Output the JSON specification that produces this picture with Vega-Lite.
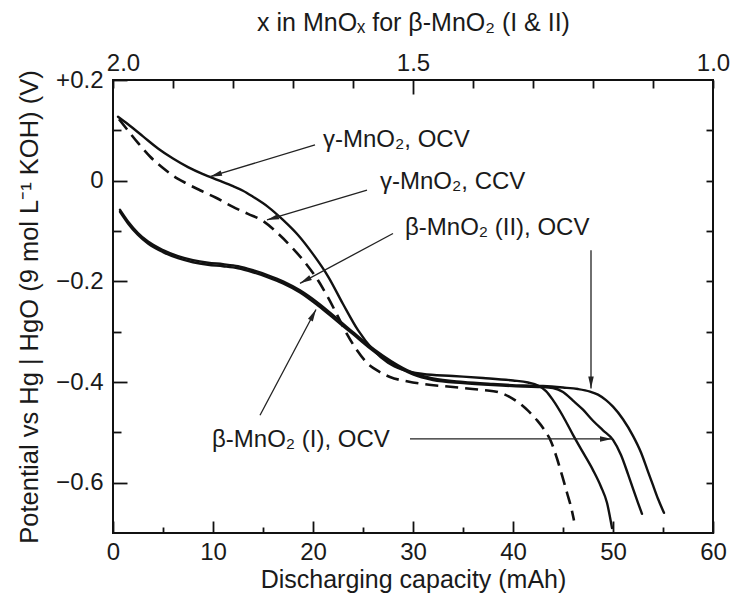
{
  "$schema": "https://vega.github.io/schema/vega-lite/v6.json",
  "width": 600,
  "height": 453,
  "autosize": {"type": "none"},
  "padding": {"left": 113, "top": 80, "right": 19, "bottom": 65},
  "background": "white",
  "config": {
    "view": {"stroke": "#111", "strokeWidth": 2},
    "font": "Liberation Sans",
    "axis": {"labelFont": "Liberation Sans", "titleFont": "Liberation Sans", "labelColor": "#1a1a1a", "titleColor": "#1a1a1a", "tickColor": "#111", "tickWidth": 1.8, "titleFontWeight": "normal", "grid": false, "domain": false, "labelFlush": false, "labelOverlap": false}
  },
  "datasets": {
    "curves": [
      {"s": "gOCV", "cap": 0.5, "v": 0.127}, {"s": "gOCV", "cap": 1.5, "v": 0.112}, {"s": "gOCV", "cap": 3, "v": 0.088}, {"s": "gOCV", "cap": 4.5, "v": 0.064}, {"s": "gOCV", "cap": 6, "v": 0.044}, {"s": "gOCV", "cap": 7.5, "v": 0.027}, {"s": "gOCV", "cap": 9, "v": 0.013}, {"s": "gOCV", "cap": 10.5, "v": 0.001}, {"s": "gOCV", "cap": 12, "v": -0.011}, {"s": "gOCV", "cap": 13, "v": -0.02}, {"s": "gOCV", "cap": 14, "v": -0.032}, {"s": "gOCV", "cap": 15.5, "v": -0.052}, {"s": "gOCV", "cap": 17, "v": -0.078}, {"s": "gOCV", "cap": 18.5, "v": -0.108}, {"s": "gOCV", "cap": 20, "v": -0.146}, {"s": "gOCV", "cap": 21.5, "v": -0.19}, {"s": "gOCV", "cap": 23, "v": -0.245}, {"s": "gOCV", "cap": 24.5, "v": -0.297}, {"s": "gOCV", "cap": 26, "v": -0.336}, {"s": "gOCV", "cap": 27.5, "v": -0.362}, {"s": "gOCV", "cap": 29, "v": -0.376}, {"s": "gOCV", "cap": 31, "v": -0.384}, {"s": "gOCV", "cap": 34, "v": -0.388}, {"s": "gOCV", "cap": 37, "v": -0.392}, {"s": "gOCV", "cap": 40, "v": -0.397}, {"s": "gOCV", "cap": 41.5, "v": -0.401}, {"s": "gOCV", "cap": 42.5, "v": -0.407}, {"s": "gOCV", "cap": 43.3, "v": -0.418}, {"s": "gOCV", "cap": 44, "v": -0.436}, {"s": "gOCV", "cap": 45, "v": -0.468}, {"s": "gOCV", "cap": 46, "v": -0.505}, {"s": "gOCV", "cap": 47, "v": -0.54}, {"s": "gOCV", "cap": 48, "v": -0.575}, {"s": "gOCV", "cap": 48.8, "v": -0.608}, {"s": "gOCV", "cap": 49.4, "v": -0.64}, {"s": "gOCV", "cap": 49.9, "v": -0.69},
      {"s": "gCCV", "cap": 0.6, "v": 0.122}, {"s": "gCCV", "cap": 1.2, "v": 0.107}, {"s": "gCCV", "cap": 2.5, "v": 0.075}, {"s": "gCCV", "cap": 3.7, "v": 0.048}, {"s": "gCCV", "cap": 5, "v": 0.025}, {"s": "gCCV", "cap": 6, "v": 0.01}, {"s": "gCCV", "cap": 7.3, "v": -0.005}, {"s": "gCCV", "cap": 8.7, "v": -0.019}, {"s": "gCCV", "cap": 10.3, "v": -0.034}, {"s": "gCCV", "cap": 12, "v": -0.052}, {"s": "gCCV", "cap": 13.5, "v": -0.066}, {"s": "gCCV", "cap": 15, "v": -0.08}, {"s": "gCCV", "cap": 16.5, "v": -0.105}, {"s": "gCCV", "cap": 18, "v": -0.135}, {"s": "gCCV", "cap": 19.3, "v": -0.165}, {"s": "gCCV", "cap": 20.5, "v": -0.198}, {"s": "gCCV", "cap": 21.5, "v": -0.232}, {"s": "gCCV", "cap": 22.5, "v": -0.27}, {"s": "gCCV", "cap": 23.4, "v": -0.305}, {"s": "gCCV", "cap": 24.4, "v": -0.337}, {"s": "gCCV", "cap": 25.4, "v": -0.362}, {"s": "gCCV", "cap": 26.5, "v": -0.378}, {"s": "gCCV", "cap": 27.7, "v": -0.39}, {"s": "gCCV", "cap": 29.5, "v": -0.399}, {"s": "gCCV", "cap": 31, "v": -0.404}, {"s": "gCCV", "cap": 34, "v": -0.41}, {"s": "gCCV", "cap": 37, "v": -0.416}, {"s": "gCCV", "cap": 38.5, "v": -0.42}, {"s": "gCCV", "cap": 39.7, "v": -0.43}, {"s": "gCCV", "cap": 40.7, "v": -0.443}, {"s": "gCCV", "cap": 41.5, "v": -0.457}, {"s": "gCCV", "cap": 42.4, "v": -0.476}, {"s": "gCCV", "cap": 43.2, "v": -0.497}, {"s": "gCCV", "cap": 43.8, "v": -0.518}, {"s": "gCCV", "cap": 44.4, "v": -0.552}, {"s": "gCCV", "cap": 44.9, "v": -0.585}, {"s": "gCCV", "cap": 45.4, "v": -0.62}, {"s": "gCCV", "cap": 45.8, "v": -0.648}, {"s": "gCCV", "cap": 46.1, "v": -0.675},
      {"s": "bI", "cap": 0.7, "v": -0.062}, {"s": "bI", "cap": 1.5, "v": -0.085}, {"s": "bI", "cap": 2.5, "v": -0.108}, {"s": "bI", "cap": 3.5, "v": -0.125}, {"s": "bI", "cap": 5, "v": -0.142}, {"s": "bI", "cap": 6.5, "v": -0.154}, {"s": "bI", "cap": 8, "v": -0.162}, {"s": "bI", "cap": 9.5, "v": -0.167}, {"s": "bI", "cap": 11, "v": -0.17}, {"s": "bI", "cap": 12.5, "v": -0.174}, {"s": "bI", "cap": 14, "v": -0.182}, {"s": "bI", "cap": 15.5, "v": -0.192}, {"s": "bI", "cap": 17, "v": -0.204}, {"s": "bI", "cap": 18.7, "v": -0.222}, {"s": "bI", "cap": 20.5, "v": -0.248}, {"s": "bI", "cap": 22.4, "v": -0.279}, {"s": "bI", "cap": 24, "v": -0.305}, {"s": "bI", "cap": 25.5, "v": -0.33}, {"s": "bI", "cap": 27, "v": -0.352}, {"s": "bI", "cap": 28.5, "v": -0.37}, {"s": "bI", "cap": 30, "v": -0.385}, {"s": "bI", "cap": 32, "v": -0.396}, {"s": "bI", "cap": 35, "v": -0.402}, {"s": "bI", "cap": 38, "v": -0.406}, {"s": "bI", "cap": 41, "v": -0.409}, {"s": "bI", "cap": 43, "v": -0.41}, {"s": "bI", "cap": 44, "v": -0.412}, {"s": "bI", "cap": 45, "v": -0.42}, {"s": "bI", "cap": 46, "v": -0.437}, {"s": "bI", "cap": 47, "v": -0.455}, {"s": "bI", "cap": 48, "v": -0.477}, {"s": "bI", "cap": 49, "v": -0.496}, {"s": "bI", "cap": 50, "v": -0.515}, {"s": "bI", "cap": 50.8, "v": -0.545}, {"s": "bI", "cap": 51.5, "v": -0.583}, {"s": "bI", "cap": 52, "v": -0.612}, {"s": "bI", "cap": 52.5, "v": -0.64}, {"s": "bI", "cap": 52.9, "v": -0.662},
      {"s": "bII", "cap": 0.7, "v": -0.058}, {"s": "bII", "cap": 1.5, "v": -0.081}, {"s": "bII", "cap": 2.5, "v": -0.104}, {"s": "bII", "cap": 3.5, "v": -0.121}, {"s": "bII", "cap": 5, "v": -0.138}, {"s": "bII", "cap": 6.5, "v": -0.15}, {"s": "bII", "cap": 8, "v": -0.158}, {"s": "bII", "cap": 9.5, "v": -0.163}, {"s": "bII", "cap": 11, "v": -0.166}, {"s": "bII", "cap": 12.5, "v": -0.17}, {"s": "bII", "cap": 14, "v": -0.178}, {"s": "bII", "cap": 15.5, "v": -0.188}, {"s": "bII", "cap": 17, "v": -0.2}, {"s": "bII", "cap": 18.7, "v": -0.218}, {"s": "bII", "cap": 20.5, "v": -0.243}, {"s": "bII", "cap": 22.4, "v": -0.274}, {"s": "bII", "cap": 24, "v": -0.301}, {"s": "bII", "cap": 25.5, "v": -0.326}, {"s": "bII", "cap": 27, "v": -0.348}, {"s": "bII", "cap": 28.5, "v": -0.367}, {"s": "bII", "cap": 30, "v": -0.382}, {"s": "bII", "cap": 32, "v": -0.393}, {"s": "bII", "cap": 35, "v": -0.4}, {"s": "bII", "cap": 38, "v": -0.404}, {"s": "bII", "cap": 41, "v": -0.407}, {"s": "bII", "cap": 43, "v": -0.408}, {"s": "bII", "cap": 45, "v": -0.411}, {"s": "bII", "cap": 46.5, "v": -0.414}, {"s": "bII", "cap": 47.7, "v": -0.419}, {"s": "bII", "cap": 48.5, "v": -0.425}, {"s": "bII", "cap": 49.3, "v": -0.436}, {"s": "bII", "cap": 50, "v": -0.449}, {"s": "bII", "cap": 51, "v": -0.474}, {"s": "bII", "cap": 52, "v": -0.507}, {"s": "bII", "cap": 52.8, "v": -0.54}, {"s": "bII", "cap": 53.5, "v": -0.578}, {"s": "bII", "cap": 54, "v": -0.605}, {"s": "bII", "cap": 54.5, "v": -0.632}, {"s": "bII", "cap": 55.1, "v": -0.66}
    ],
    "arrows": [
      {"a": "a1", "x1": 20.2, "y1": 0.071, "x2": 9.7, "y2": 0.008},
      {"a": "a2", "x1": 25.4, "y1": -0.019, "x2": 15.4, "y2": -0.078},
      {"a": "a3", "x1": 28.0, "y1": -0.105, "x2": 18.7, "y2": -0.204},
      {"a": "a4", "x1": 14.7, "y1": -0.466, "x2": 20.3, "y2": -0.256},
      {"a": "a5", "x1": 47.8, "y1": -0.138, "x2": 47.8, "y2": -0.413},
      {"a": "a6", "x1": 29.7, "y1": -0.513, "x2": 49.9, "y2": -0.513}
    ],
    "labels": [
      {"t": "γ-MnO₂, OCV", "x": 21.0, "y": 0.081},
      {"t": "γ-MnO₂, CCV", "x": 26.7, "y": -0.002},
      {"t": "β-MnO₂ (II), OCV", "x": 29.2, "y": -0.095},
      {"t": "β-MnO₂ (I), OCV", "x": 9.9, "y": -0.515}
    ]
  },
  "layer": [
    {
      "data": {"name": "curves"},
      "transform": [{"filter": "datum.s != 'gCCV'"}],
      "mark": {"type": "line", "color": "#111", "strokeWidth": 2.4, "interpolate": "monotone", "strokeCap": "round"},
      "encoding": {
        "detail": {"field": "s", "type": "nominal"},
        "x": {"field": "cap", "type": "quantitative", "scale": {"domain": [0, 60], "nice": false, "zero": false},
          "axis": {"orient": "bottom", "values": [0, 5, 10, 15, 20, 25, 30, 35, 40, 45, 50, 55, 60],
            "tickSize": {"condition": {"test": "datum.value % 10 == 0", "value": -12}, "value": -6},
            "labelPadding": 19, "labelFontSize": 24, "labelExpr": "datum.value % 10 == 0 ? datum.label : ''",
            "title": "Discharging capacity (mAh)", "titleFontSize": 25, "titlePadding": -3}},
        "y": {"field": "v", "type": "quantitative", "scale": {"domain": [-0.7, 0.2], "nice": false, "zero": false},
          "axis": {"orient": "left", "values": [-0.6, -0.5, -0.4, -0.3, -0.2, -0.1, 0, 0.1, 0.2],
            "tickSize": {"condition": {"test": "round(datum.value*10) % 2 == 0", "value": -14}, "value": -8},
            "labelPadding": 24, "labelFontSize": 24,
            "labelExpr": "round(datum.value*10) % 2 != 0 ? '' : (datum.value > 0.05 ? '+' + format(datum.value, '.1f') : (datum.value < -0.05 ? '−' + format(-datum.value, '.1f') : '0'))",
            "title": "Potential vs Hg | HgO (9 mol L⁻¹ KOH) (V)", "titleFontSize": 25.5, "titlePadding": 13}}
      }
    },
    {
      "data": {"name": "curves"},
      "transform": [{"filter": "datum.s == 'gCCV'"}],
      "mark": {"type": "line", "color": "#111", "strokeWidth": 2.6, "strokeDash": [13, 7], "interpolate": "monotone"},
      "encoding": {
        "x": {"field": "cap", "type": "quantitative", "scale": {"domain": [0, 60], "nice": false, "zero": false}, "axis": null},
        "y": {"field": "v", "type": "quantitative", "scale": {"domain": [-0.7, 0.2], "nice": false, "zero": false}, "axis": null}
      }
    },
    {
      "data": {"name": "arrows"},
      "mark": {"type": "rule", "color": "#222", "strokeWidth": 1.3},
      "encoding": {
        "x": {"field": "x1", "type": "quantitative", "axis": null},
        "y": {"field": "y1", "type": "quantitative", "axis": null},
        "x2": {"field": "x2"},
        "y2": {"field": "y2"}
      }
    },
    {"data": {"name": "arrows"}, "transform": [{"filter": "datum.a == 'a1'"}],
      "mark": {"type": "point", "shape": "M0,0L-0.55,2.4L0.55,2.4Z", "filled": true, "color": "#222", "size": 100, "opacity": 1, "angle": 253.2},
      "encoding": {"x": {"field": "x2", "type": "quantitative", "axis": null}, "y": {"field": "y2", "type": "quantitative", "axis": null}}},
    {"data": {"name": "arrows"}, "transform": [{"filter": "datum.a == 'a2'"}],
      "mark": {"type": "point", "shape": "M0,0L-0.55,2.4L0.55,2.4Z", "filled": true, "color": "#222", "size": 100, "opacity": 1, "angle": 253.5},
      "encoding": {"x": {"field": "x2", "type": "quantitative", "axis": null}, "y": {"field": "y2", "type": "quantitative", "axis": null}}},
    {"data": {"name": "arrows"}, "transform": [{"filter": "datum.a == 'a3'"}],
      "mark": {"type": "point", "shape": "M0,0L-0.55,2.4L0.55,2.4Z", "filled": true, "color": "#222", "size": 100, "opacity": 1, "angle": 241.8},
      "encoding": {"x": {"field": "x2", "type": "quantitative", "axis": null}, "y": {"field": "y2", "type": "quantitative", "axis": null}}},
    {"data": {"name": "arrows"}, "transform": [{"filter": "datum.a == 'a4'"}],
      "mark": {"type": "point", "shape": "M0,0L-0.55,2.4L0.55,2.4Z", "filled": true, "color": "#222", "size": 100, "opacity": 1, "angle": 27.9},
      "encoding": {"x": {"field": "x2", "type": "quantitative", "axis": null}, "y": {"field": "y2", "type": "quantitative", "axis": null}}},
    {"data": {"name": "arrows"}, "transform": [{"filter": "datum.a == 'a5'"}],
      "mark": {"type": "point", "shape": "M0,0L-0.55,2.4L0.55,2.4Z", "filled": true, "color": "#222", "size": 100, "opacity": 1, "angle": 180},
      "encoding": {"x": {"field": "x2", "type": "quantitative", "axis": null}, "y": {"field": "y2", "type": "quantitative", "axis": null}}},
    {"data": {"name": "arrows"}, "transform": [{"filter": "datum.a == 'a6'"}],
      "mark": {"type": "point", "shape": "M0,0L-0.55,2.4L0.55,2.4Z", "filled": true, "color": "#222", "size": 100, "opacity": 1, "angle": 90},
      "encoding": {"x": {"field": "x2", "type": "quantitative", "axis": null}, "y": {"field": "y2", "type": "quantitative", "axis": null}}},
    {
      "data": {"name": "labels"},
      "mark": {"type": "text", "align": "left", "baseline": "middle", "fontSize": 24, "font": "Liberation Sans", "color": "#1a1a1a"},
      "encoding": {
        "text": {"field": "t"},
        "x": {"field": "x", "type": "quantitative",
          "axis": {"orient": "top", "values": [0, 6, 12, 18, 24, 30, 36, 42, 48, 54, 60],
            "tickSize": {"condition": {"test": "datum.value == 30", "value": -14}, "value": -8},
            "labelPadding": {"condition": {"test": "datum.value == 30", "value": 19}, "value": 13},
            "labelOffset": {"condition": {"test": "datum.value == 0", "value": 10}, "value": 0},
            "labelFontSize": 24,
            "labelExpr": "datum.value == 0 ? '2.0' : (datum.value == 30 ? '1.5' : (datum.value == 60 ? '1.0' : ''))",
            "title": "x in MnOₓ for β-MnO₂ (I & II)", "titleFontSize": 25, "titlePadding": 16}},
        "y": {"field": "y", "type": "quantitative",
          "axis": {"orient": "right", "values": [-0.6, -0.5, -0.4, -0.3, -0.2, -0.1, 0, 0.1], "tickSize": -7, "labels": false, "title": null}}
      }
    }
  ],
  "resolve": {"axis": {"x": "independent", "y": "independent"}}
}
